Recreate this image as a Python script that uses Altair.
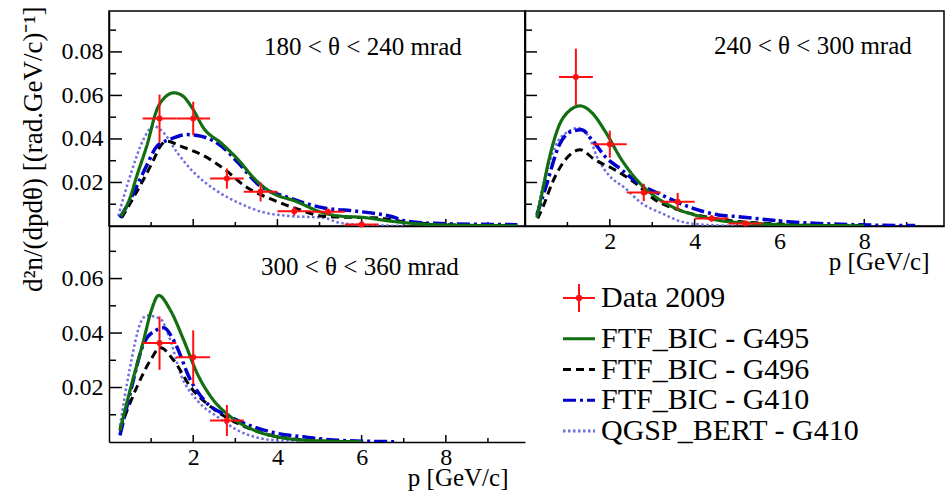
import altair as alt
import pandas as pd

FONT = "Liberation Serif"
RED = "#ff1010"

MODELS = ["FTF_BIC - G495", "FTF_BIC - G496", "FTF_BIC - G410", "QGSP_BERT - G410"]
MODEL_COLORS = ["#116e11", "#000000", "#0000cc", "#6f6fe0"]
MODEL_DASH = [[1, 0], [8, 5], [13, 4, 3, 4], [2.5, 2.5]]
MODEL_WIDTH = [3.2, 3, 3.5, 2.5]
DATA_LABEL = "Data 2009"
NOTES = ["180 < θ < 240 mrad", "240 < θ < 300 mrad", "300 < θ < 360 mrad"]
Y_TITLE = "d²n/(dpdθ) [(rad.GeV/c)⁻¹]"
X_TITLE = "p [GeV/c]"

X_MAX = 9.88
X_MAJOR = [2, 4, 6, 8]
X_MINOR = [1, 3, 5, 7, 9]
Y_MAJOR_TOP = [0.02, 0.04, 0.06, 0.08]
Y_MINOR_TOP = [0.01, 0.03, 0.05, 0.07, 0.09]
Y_MAJOR_BOT = [0.02, 0.04, 0.06]
Y_MINOR_BOT = [0.01, 0.03, 0.05, 0.07]
BIN_HALF = 0.4

# ---- panel 1 : 180 < theta < 240 mrad ----
p1_g495_p = [0.28, 0.5, 0.66, 0.9, 1.14, 1.35, 1.54, 1.75, 1.95, 2.27, 2.67, 3.06, 3.47, 3.87, 4.43, 5.08, 5.5, 6.0, 6.7, 7.5, 8.5, 9.7]
p1_g495_v = [0.0044, 0.013, 0.023, 0.037, 0.0536, 0.0595, 0.0612, 0.0598, 0.055, 0.0444, 0.038, 0.0306, 0.0214, 0.0153, 0.0114, 0.0061, 0.0045, 0.0040, 0.0022, 0.0008, 0.0003, 0.0001]
p1_g496_p = [0.3, 0.55, 0.82, 1.05, 1.22, 1.38, 1.7, 2.27, 2.75, 3.23, 3.87, 4.51, 5.08, 5.7, 6.28, 7.08, 8.0, 9.0]
p1_g496_v = [0.0038, 0.012, 0.0214, 0.030, 0.0367, 0.039, 0.0367, 0.0321, 0.026, 0.0183, 0.0122, 0.0076, 0.0045, 0.004, 0.0038, 0.0018, 0.0006, 0.0002]
p1_g410_p = [0.26, 0.45, 0.66, 0.9, 1.14, 1.45, 1.86, 2.18, 2.67, 3.07, 3.55, 4.27, 5.08, 5.88, 6.68, 7.08, 7.88, 8.8, 9.7]
p1_g410_v = [0.0038, 0.010, 0.0183, 0.028, 0.0367, 0.0398, 0.042, 0.0413, 0.0367, 0.029, 0.019, 0.013, 0.0084, 0.0068, 0.0045, 0.0022, 0.0011, 0.0008, 0.0006]
p1_qgsp_p = [0.22, 0.5, 0.82, 1.06, 1.30, 1.62, 2.02, 2.51, 3.07, 3.71, 4.27, 5.08, 5.47, 6.0, 7.0]
p1_qgsp_v = [0.0046, 0.0229, 0.0398, 0.0459, 0.0428, 0.0337, 0.0245, 0.0168, 0.0107, 0.0061, 0.0046, 0.0038, 0.0015, 0.0005, 0.0001]
p1_data_p = [1.2, 2.0, 2.8, 3.6, 4.4, 5.2, 6.0]
p1_data_v = [0.0494, 0.0494, 0.0218, 0.0157, 0.0068, 0.0065, 0.0007]
p1_data_err = [0.011, 0.0077, 0.0046, 0.0044, 0.002, 0.0015, 0.0008]

# ---- panel 2 : 240 < theta < 300 mrad ----
p2_g495_p = [0.28, 0.4, 0.56, 0.79, 1.03, 1.3, 1.58, 1.89, 2.28, 2.6, 3.07, 3.54, 4.16, 4.6, 5.4, 6.5, 8.0]
p2_g495_v = [0.0040, 0.015, 0.030, 0.0455, 0.0527, 0.0552, 0.052, 0.0435, 0.0304, 0.022, 0.0135, 0.0082, 0.0043, 0.0025, 0.0012, 0.0003, 0.0001]
p2_g496_p = [0.3, 0.45, 0.64, 0.95, 1.3, 1.65, 2.12, 2.6, 3.07, 3.62, 4.24, 4.8, 5.5, 6.5, 8.0]
p2_g496_v = [0.0035, 0.010, 0.0197, 0.0304, 0.035, 0.0304, 0.0258, 0.0197, 0.012, 0.0074, 0.0043, 0.0025, 0.0014, 0.0005, 0.0001]
p2_g410_p = [0.28, 0.52, 0.79, 1.1, 1.33, 1.58, 1.89, 2.28, 2.67, 3.22, 3.85, 4.56, 5.03, 6.2, 7.77, 9.2]
p2_g410_v = [0.005, 0.0197, 0.0365, 0.0435, 0.0442, 0.0396, 0.0319, 0.0258, 0.0197, 0.0143, 0.0089, 0.0051, 0.0043, 0.002, 0.0006, 0.0002]
p2_qgsp_p = [0.28, 0.48, 0.71, 1.03, 1.26, 1.5, 1.73, 1.97, 2.36, 2.75, 3.22, 3.69, 4.3, 5.0]
p2_qgsp_v = [0.006, 0.0227, 0.0365, 0.0435, 0.045, 0.0412, 0.0304, 0.0235, 0.0174, 0.0105, 0.0059, 0.002, 0.0005, 0.0001]
p2_data_p = [1.2, 2.0, 2.8, 3.6, 4.4, 5.2]
p2_data_v = [0.0685, 0.0376, 0.0154, 0.0112, 0.0035, 0.0012]
p2_data_err = [0.013, 0.0062, 0.004, 0.004, 0.0015, 0.0008]

# ---- panel 3 : 300 < theta < 360 mrad ----
p3_g495_p = [0.26, 0.5, 0.82, 1.0, 1.18, 1.46, 1.78, 2.1, 2.43, 2.9, 3.47, 4.27, 5.0, 6.0]
p3_g495_v = [0.0042, 0.019, 0.0372, 0.048, 0.0538, 0.0483, 0.0372, 0.025, 0.0164, 0.0091, 0.0042, 0.0012, 0.0004, 0.0001]
p3_g496_p = [0.26, 0.66, 0.98, 1.22, 1.54, 1.94, 2.43, 3.07, 3.87, 4.67, 5.5]
p3_g496_v = [0.0048, 0.0201, 0.0299, 0.0346, 0.0299, 0.0201, 0.0128, 0.0067, 0.0024, 0.0007, 0.0002]
p3_g410_p = [0.26, 0.5, 0.82, 1.1, 1.3, 1.54, 1.94, 2.27, 2.9, 3.87, 4.67, 5.47, 6.85]
p3_g410_v = [0.0024, 0.0177, 0.036, 0.0409, 0.0419, 0.0372, 0.0226, 0.0152, 0.0091, 0.0036, 0.0018, 0.0006, 0.0001]
p3_qgsp_p = [0.26, 0.5, 0.74, 0.9, 1.22, 1.46, 1.7, 2.1, 2.59, 3.07, 3.87, 4.5]
p3_qgsp_v = [0.006, 0.0275, 0.0434, 0.0464, 0.0452, 0.0372, 0.025, 0.0152, 0.0091, 0.0042, 0.0007, 0.0002]
p3_data_p = [1.2, 2.0, 2.8]
p3_data_v = [0.0363, 0.0311, 0.0079]
p3_data_err = [0.0098, 0.0099, 0.0057]


def panel(curves, dp, dv, de, ymax, width, height, ymaj, ymin, xaxis, yaxis,
          note, note_x, note_y, ytick_len):
    xs = alt.Scale(domain=[0, X_MAX], nice=False, zero=False)
    ys = alt.Scale(domain=[0, ymax], nice=False, zero=False)

    def X(f):
        return alt.X(f, type="quantitative", scale=xs, axis=xaxis)

    def Y(f):
        return alt.Y(f, type="quantitative", scale=ys, axis=yaxis)

    layers = []
    tick_style = dict(color="black", strokeWidth=1.5)
    layers.append(alt.Chart(pd.DataFrame({"t": ymaj})).mark_rule(**tick_style).encode(
        y=Y("t"), x=alt.value(0), x2=alt.value(ytick_len)))
    layers.append(alt.Chart(pd.DataFrame({"t": ymin})).mark_rule(**tick_style).encode(
        y=Y("t"), x=alt.value(0), x2=alt.value(7)))
    layers.append(alt.Chart(pd.DataFrame({"t": X_MAJOR})).mark_rule(**tick_style).encode(
        x=X("t"), y=alt.value(height), y2=alt.value(height - 7)))
    layers.append(alt.Chart(pd.DataFrame({"t": X_MINOR})).mark_rule(**tick_style).encode(
        x=X("t"), y=alt.value(height), y2=alt.value(height - 4)))

    for idx in [3, 1, 2, 0]:
        ps, vs = curves[idx]
        df = pd.DataFrame({"p": ps, "v": vs})
        layers.append(alt.Chart(df).mark_line(
            color=MODEL_COLORS[idx], strokeDash=MODEL_DASH[idx],
            strokeWidth=MODEL_WIDTH[idx], interpolate="monotone", clip=True
        ).encode(x=X("p"), y=Y("v")))

    d = pd.DataFrame({"p": dp, "v": dv, "e": de})
    d["lo"] = d["p"] - BIN_HALF
    d["hi"] = d["p"] + BIN_HALF
    d["vlo"] = (d["v"] - d["e"]).clip(lower=0)
    d["vhi"] = d["v"] + d["e"]
    layers.append(alt.Chart(d).mark_rule(color=RED, strokeWidth=2, clip=True).encode(
        x=X("lo"), x2=alt.X2("hi"), y=Y("v")))
    layers.append(alt.Chart(d).mark_rule(color=RED, strokeWidth=2, clip=True).encode(
        x=X("p"), y=Y("vlo"), y2=alt.Y2("vhi")))
    layers.append(alt.Chart(d).mark_circle(color=RED, size=36, opacity=1).encode(
        x=X("p"), y=Y("v")))

    layers.append(alt.Chart(pd.DataFrame({"note": [note]})).mark_text(
        font=FONT, fontSize=25, align="left", baseline="middle", color="black"
    ).encode(x=alt.value(note_x), y=alt.value(note_y), text="note:N"))

    return alt.layer(*layers).properties(width=width, height=height)


def label_axis_style(**kw):
    base = dict(labelFont=FONT, labelFontSize=24, labelColor="black", ticks=False,
                domain=True, domainColor="black", domainWidth=1.5, grid=False,
                titleFont=FONT, titleFontWeight="normal", titleColor="black")
    base.update(kw)
    return alt.Axis(**base)


W_LEFT, W_RIGHT, H_TOP, H_BOT = 416, 419, 215, 216

# top-left
tl = panel(
    [(p1_g495_p, p1_g495_v), (p1_g496_p, p1_g496_v), (p1_g410_p, p1_g410_v), (p1_qgsp_p, p1_qgsp_v)],
    p1_data_p, p1_data_v, p1_data_err, 0.0988, W_LEFT, H_TOP, Y_MAJOR_TOP, Y_MINOR_TOP,
    label_axis_style(labels=False, title=None),
    label_axis_style(values=Y_MAJOR_TOP, format=".2f", labelPadding=6, title=Y_TITLE,
                     titleFontSize=27, titleAnchor="end", titleAlign="right", titleAngle=270,
                     titleX=-76, titleY=-5, titleBaseline="middle"),
    NOTES[0], 155, 36, 13,
).properties(view=alt.ViewBackground(stroke="black", strokeWidth=1.5))

# top-right
tr = panel(
    [(p2_g495_p, p2_g495_v), (p2_g496_p, p2_g496_v), (p2_g410_p, p2_g410_v), (p2_qgsp_p, p2_qgsp_v)],
    p2_data_p, p2_data_v, p2_data_err, 0.0988, W_RIGHT, H_TOP, Y_MAJOR_TOP, Y_MINOR_TOP,
    label_axis_style(values=X_MAJOR, format="d", labelPadding=3, title=X_TITLE, titleFontSize=25,
                     titleX=W_RIGHT - 15, titleY=43, titleAlign="right", titleBaseline="alphabetic"),
    label_axis_style(labels=False, title=None),
    NOTES[1], 189, 35, 12,
).properties(view=alt.ViewBackground(stroke="black", strokeWidth=1.5))

# bottom-left
bl = panel(
    [(p3_g495_p, p3_g495_v), (p3_g496_p, p3_g496_v), (p3_g410_p, p3_g410_v), (p3_qgsp_p, p3_qgsp_v)],
    p3_data_p, p3_data_v, p3_data_err, 0.0793, W_LEFT, H_BOT, Y_MAJOR_BOT, Y_MINOR_BOT,
    label_axis_style(values=X_MAJOR, format="d", labelPadding=3, title=X_TITLE, titleFontSize=25,
                     titleX=W_LEFT - 17, titleY=43, titleAlign="right", titleBaseline="alphabetic"),
    label_axis_style(values=Y_MAJOR_BOT, format=".2f", labelPadding=6, title=None),
    NOTES[2], 152, 41, 13,
).properties(view=alt.ViewBackground(stroke="transparent"))

# legend
leg_labels = [DATA_LABEL] + MODELS
data_df = pd.DataFrame({"label": [DATA_LABEL]})
model_df = pd.DataFrame({"label": MODELS})
ly = alt.Y("label:N", scale=alt.Scale(type="point", domain=leg_labels, range=[82, 205], padding=0), axis=None)
text_style = dict(font=FONT, fontSize=30, align="left", baseline="middle", color="black")

legend = alt.layer(
    alt.Chart(data_df).mark_rule(color=RED, strokeWidth=2, yOffset=-10).encode(
        y=ly, x=alt.value(38), x2=alt.value(70)),
    alt.Chart(data_df).mark_rule(color=RED, strokeWidth=2, yOffset=-24, y2Offset=4).encode(
        y=ly, y2=alt.Y2("label"), x=alt.value(54)),
    alt.Chart(data_df).mark_circle(color=RED, size=40, opacity=1, yOffset=-10).encode(
        y=ly, x=alt.value(54)),
    alt.Chart(data_df).mark_text(yOffset=-10, **text_style).encode(
        y=ly, x=alt.value(76), text="label:N"),
    alt.Chart(model_df).mark_rule().encode(
        y=ly, x=alt.value(38), x2=alt.value(70),
        color=alt.Color("label:N", scale=alt.Scale(domain=MODELS, range=MODEL_COLORS), legend=None),
        strokeDash=alt.StrokeDash("label:N", scale=alt.Scale(domain=MODELS, range=MODEL_DASH), legend=None),
        strokeWidth=alt.StrokeWidth("label:N", scale=alt.Scale(domain=MODELS, range=MODEL_WIDTH), legend=None)),
    alt.Chart(model_df).mark_text(**text_style).encode(
        y=ly, x=alt.value(76), text="label:N"),
).properties(width=W_RIGHT, height=H_BOT, view=alt.ViewBackground(stroke="transparent"))

chart = alt.concat(tl, tr, bl, legend, columns=2, spacing=0, bounds="flush").properties(
    padding={"left": 18, "top": 5, "right": 0, "bottom": 0},
    background="white",
).configure_view(stroke="transparent")

chart.save("out.html", embed_options={"renderer": "svg", "actions": False})
